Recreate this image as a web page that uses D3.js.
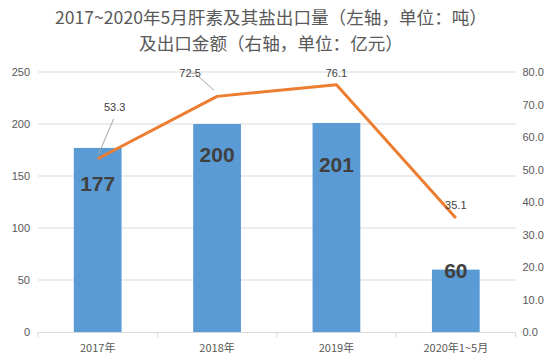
<!DOCTYPE html>
<html><head><meta charset="utf-8">
<script src="https://cdn.jsdelivr.net/npm/d3@7"></script>
<style>body{margin:0;background:#fff;}svg{display:block;font-family:"Noto Sans CJK SC","Noto Sans",sans-serif;}</style>
</head><body><svg id="c" width="552" height="363"></svg>
<script>
const categories = ["2017年","2018年","2019年","2020年1~5月"];
const volume = [177, 200, 201, 60];
const value = [53.3, 72.5, 76.1, 35.1];
const leftTicks = [0,50,100,150,200,250];
const rightTicks = [0,10,20,30,40,50,60,70,80];
const titleLines = ["2017~2020年5月肝素及其盐出口量（左轴，单位：吨）","及出口金额（右轴，单位：亿元）"];

const svg = d3.select("#c");
const M = {l:38, r:515.5, t:72, b:332};
const x = d3.scaleBand().domain(categories).range([M.l, M.r]).paddingInner(0.6).paddingOuter(0.3);
const xc = d => x(d) + x.bandwidth()/2;
const yL = d3.scaleLinear().domain([0,250]).range([M.b, M.t]);
const yR = d3.scaleLinear().domain([0,80]).range([M.b, M.t]);

// title
svg.append("g").selectAll("text").data(titleLines).join("text")
  .attr("x", 271).attr("y", (d,i)=>23.5+i*26).attr("text-anchor","middle")
  .attr("font-size", 17.6).attr("fill","#595959").text(d=>d);

// gridlines
svg.append("g").selectAll("line").data(leftTicks.slice(1)).join("line")
  .attr("x1", M.l).attr("x2", M.r).attr("y1", d=>yL(d)).attr("y2", d=>yL(d))
  .attr("stroke","#d9d9d9").attr("stroke-width",1);

// left axis
const la = svg.append("g").attr("transform",`translate(${M.l-8},0)`)
  .call(d3.axisLeft(yL).tickValues(leftTicks).tickSize(0).tickPadding(0));
la.select(".domain").remove();
la.selectAll("text").attr("font-size",11).attr("fill","#595959").attr("font-family","'Liberation Sans',Arial,sans-serif");

// right axis
const ra = svg.append("g").attr("transform",`translate(${M.r+7},0)`)
  .call(d3.axisRight(yR).tickValues(rightTicks).tickSize(0).tickPadding(0).tickFormat(d3.format(".1f")));
ra.select(".domain").remove();
ra.selectAll("text").attr("font-size",11).attr("fill","#595959").attr("font-family","'Liberation Sans',Arial,sans-serif");

// bars
svg.append("g").selectAll("rect").data(volume).join("rect")
  .attr("x",(d,i)=>x(categories[i])).attr("width",x.bandwidth())
  .attr("y",d=>yL(d)).attr("height",d=>yL(0)-yL(d)).attr("fill","#5B9BD5");

// x axis
const xa = svg.append("g").attr("transform",`translate(0,${M.b+0.5})`);
xa.append("line").attr("x1",M.l).attr("x2",M.r).attr("stroke","#d9d9d9");
const bounds = d3.range(categories.length+1).map(i=>M.l + i*(M.r-M.l)/categories.length);
xa.selectAll("line.t").data(bounds).join("line").attr("class","t")
  .attr("x1",d=>d).attr("x2",d=>d).attr("y1",0).attr("y2",5).attr("stroke","#d9d9d9");
xa.selectAll("text").data(categories).join("text")
  .attr("x",d=>xc(d)).attr("y",19).attr("text-anchor","middle")
  .attr("font-size",11).attr("fill","#595959").text(d=>d);

// bar labels (manually offset like the reference)
const barLabelDy = [43, 38, 49, 8];
svg.append("g").selectAll("text").data(volume).join("text")
  .attr("x",(d,i)=>xc(categories[i])).attr("y",(d,i)=>yL(d)+barLabelDy[i])
  .attr("text-anchor","middle").attr("font-size",21).attr("font-weight","bold")
  .attr("font-family","'Liberation Sans',Arial,sans-serif")
  .attr("fill","#404040").text(d=>d);

// line
const line = d3.line().x((d,i)=>xc(categories[i])).y(d=>yR(d));
svg.append("path").datum(value).attr("d",line).attr("fill","none")
  .attr("stroke","#ED7D31").attr("stroke-width",3).attr("stroke-linejoin","round");

// line labels with leader lines
const lblPos = [[17,-52],[-27,-23],[0,-12],[0,-13]];
const leaders = [[1,-5,16,-40],[-3,-6,-22,-23],null,null];
const lg = svg.append("g");
value.forEach((v,i)=>{
  const px = xc(categories[i]), py = yR(v);
  if (leaders[i]) {
    const L = leaders[i];
    lg.append("polyline").attr("points",
      i===1 ? `${px+L[0]},${py+L[1]} ${px+L[2]},${py+L[3]} ${px+L[2]-4},${py+L[3]}`
            : `${px+L[0]},${py+L[1]} ${px+L[2]},${py+L[3]}`)
      .attr("fill","none").attr("stroke","#a6a6a6").attr("stroke-width",1);
  }
  lg.append("text").attr("x",px+lblPos[i][0]).attr("y",py+lblPos[i][1]+4)
    .attr("text-anchor","middle").attr("font-size",11).attr("fill","#404040")
    .attr("font-family","'Liberation Sans',Arial,sans-serif").text(v.toFixed(1));
});
</script></body></html>
